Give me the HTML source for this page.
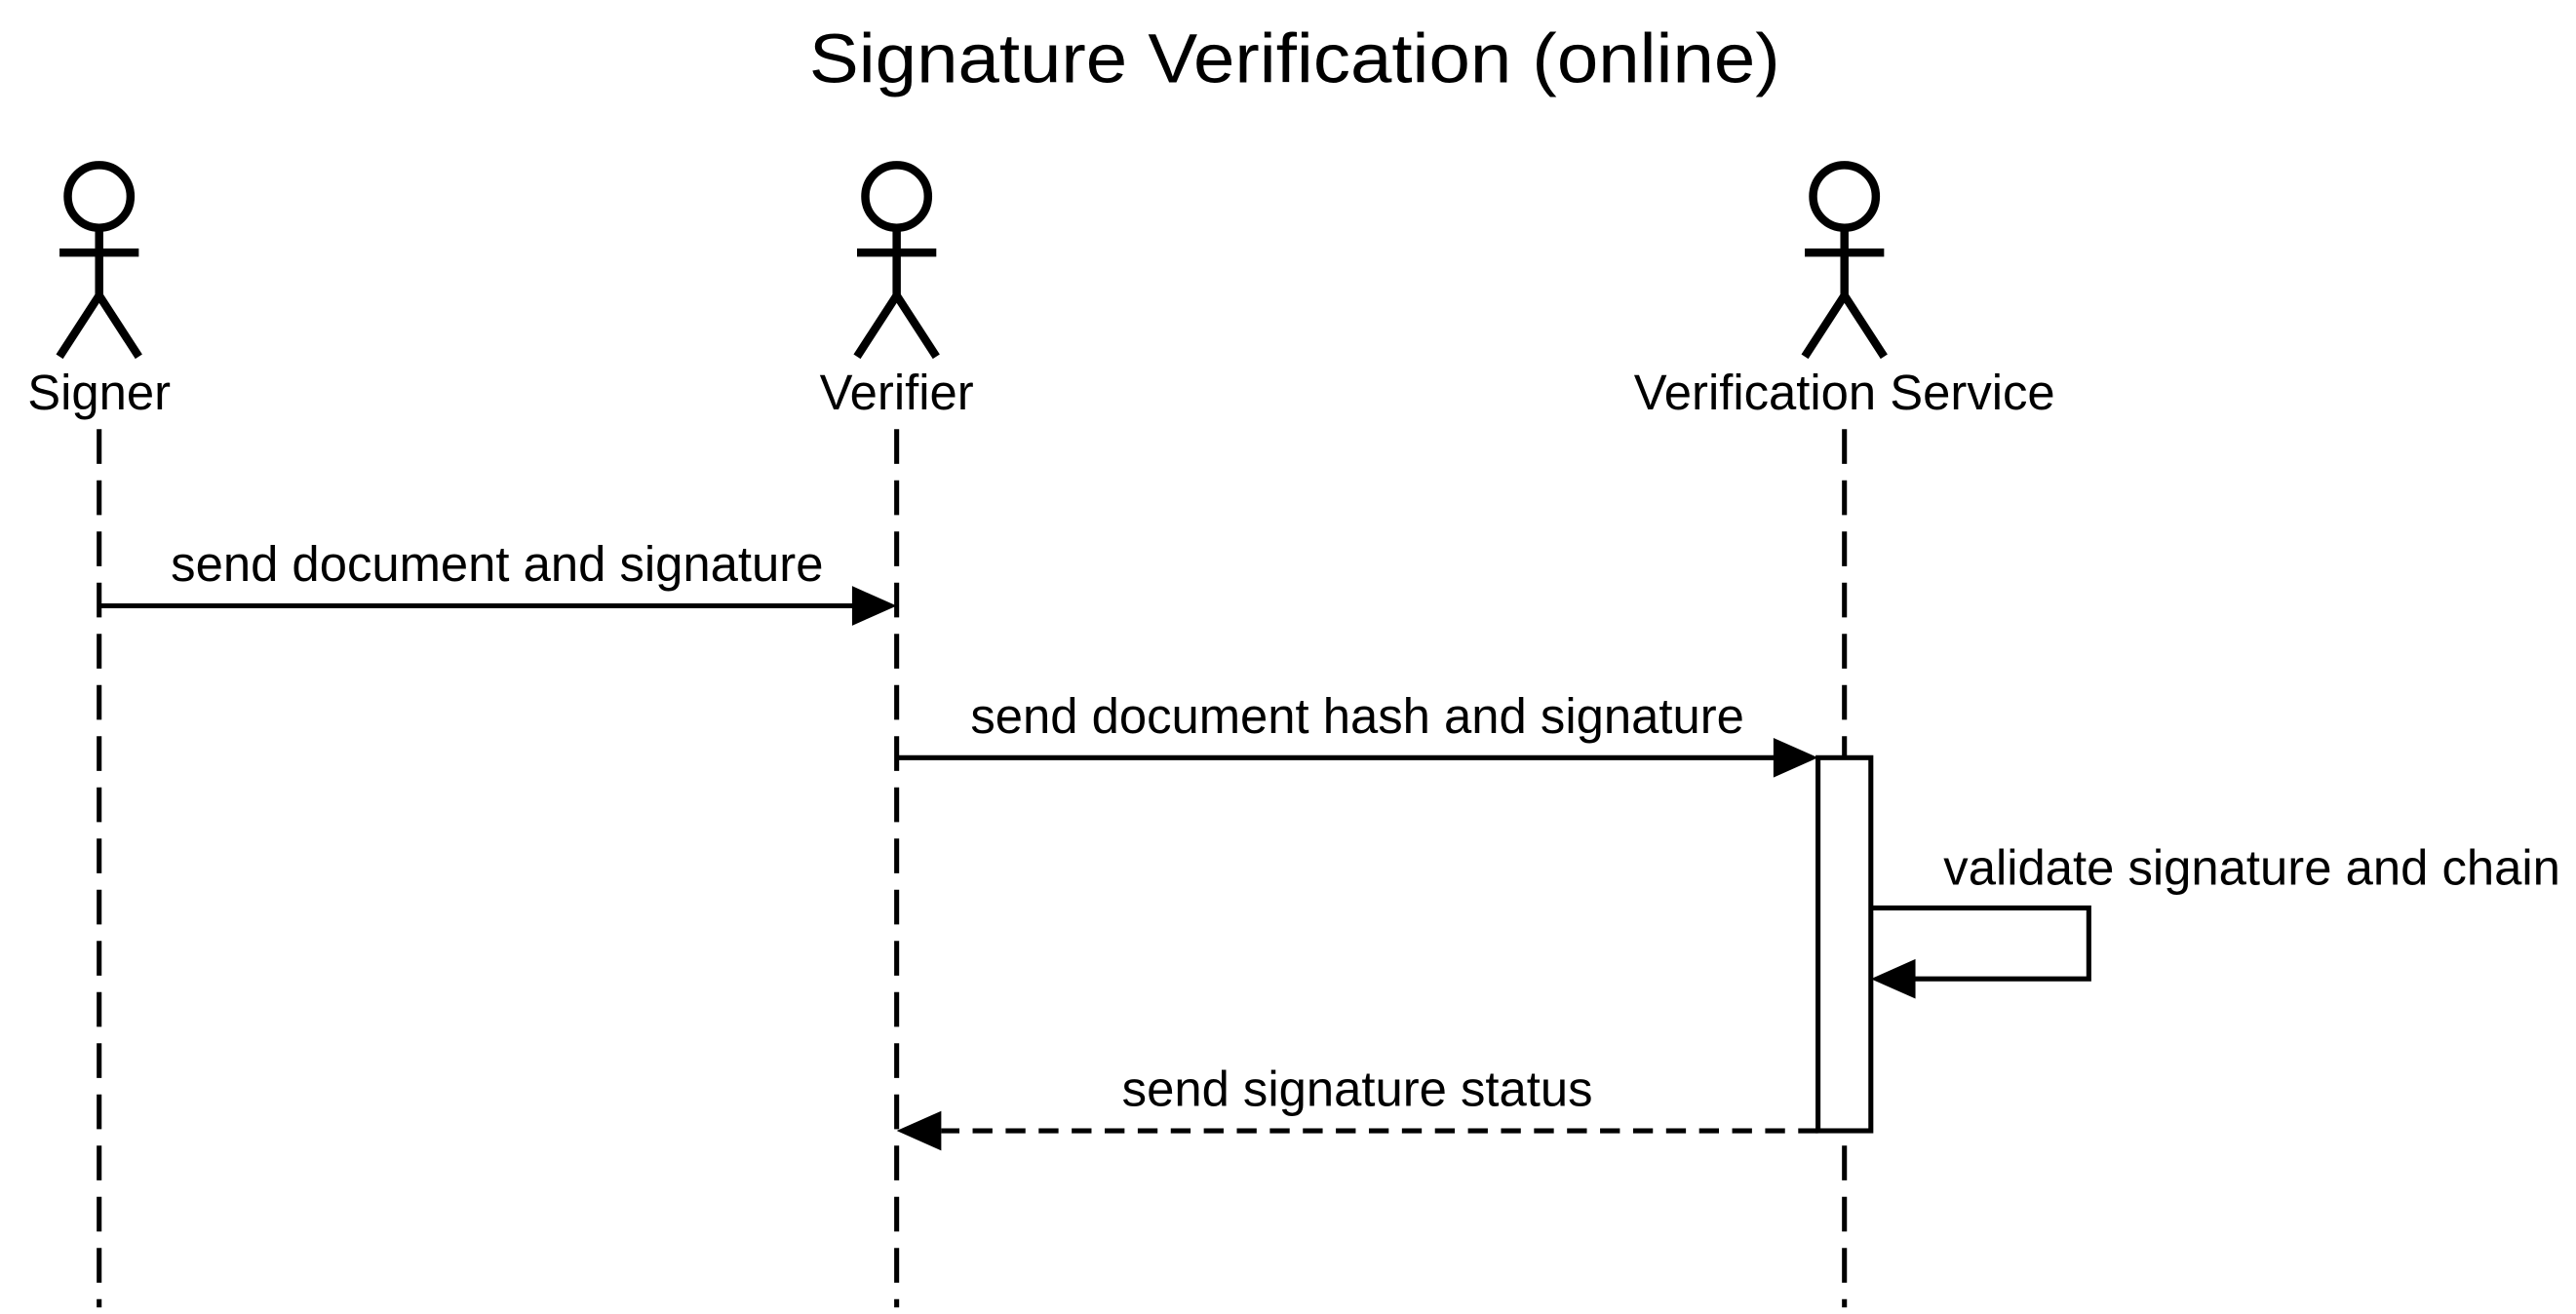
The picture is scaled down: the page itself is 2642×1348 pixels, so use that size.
<!DOCTYPE html>
<html><head><meta charset="utf-8"><style>
html,body{margin:0;padding:0;background:#fff;width:2642px;height:1348px;overflow:hidden}
svg{display:block}
text{font-family:"Liberation Sans",Arial,sans-serif;fill:#000}
</style></head><body>
<svg width="2642" height="1348" viewBox="0 0 1560 796" xmlns="http://www.w3.org/2000/svg">
<text x="784" y="50" font-size="42" text-anchor="middle" textLength="588" lengthAdjust="spacingAndGlyphs">Signature Verification (online)</text>

<g stroke="#000" stroke-width="5" fill="none">
  <circle cx="60" cy="119" r="19"/><line x1="36" y1="153" x2="84" y2="153"/><line x1="60" y1="138" x2="60" y2="179"/><polyline points="36,216 60,179 84,216"/>
  <circle cx="543" cy="119" r="19"/><line x1="519" y1="153" x2="567" y2="153"/><line x1="543" y1="138" x2="543" y2="179"/><polyline points="519,216 543,179 567,216"/>
  <circle cx="1117" cy="119" r="19"/><line x1="1093" y1="153" x2="1141" y2="153"/><line x1="1117" y1="138" x2="1117" y2="179"/><polyline points="1093,216 1117,179 1141,216"/>
</g>
<g font-size="30" text-anchor="middle">
  <text x="60" y="248">Signer</text>
  <text x="543" y="248">Verifier</text>
  <text x="1117" y="248">Verification Service</text>
</g>

<g stroke="#000" stroke-width="3" stroke-dasharray="21 10">
  <line x1="60" y1="260" x2="60" y2="792"/>
  <line x1="543" y1="260" x2="543" y2="792"/>
  <line x1="1117" y1="260" x2="1117" y2="792"/>
</g>

<rect x="1101" y="459" width="32" height="226" fill="#fff" stroke="#000" stroke-width="3"/>

<g stroke="#000" stroke-width="3" fill="none">
  <line x1="60" y1="367" x2="518" y2="367"/>
  <line x1="543" y1="459" x2="1076" y2="459"/>
  <polyline points="1133,550 1265,550 1265,593 1158,593"/>
  <line x1="1101" y1="685" x2="570" y2="685" stroke-dasharray="12 8"/>
</g>
<g fill="#000">
  <polygon points="543,367 516,355 516,379"/>
  <polygon points="1101,459 1074,447 1074,471"/>
  <polygon points="1133,593 1160,581 1160,605"/>
  <polygon points="543,685 570,673 570,697"/>
</g>
<g font-size="30">
  <text x="301" y="352" text-anchor="middle">send document and signature</text>
  <text x="822" y="444" text-anchor="middle">send document hash and signature</text>
  <text x="1177" y="536">validate signature and chain</text>
  <text x="822" y="670" text-anchor="middle">send signature status</text>
</g>
</svg>
</body></html>
